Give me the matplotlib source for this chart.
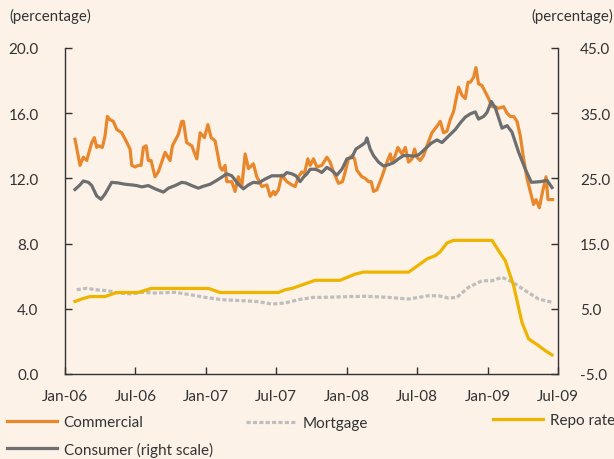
import numpy as np
import matplotlib
matplotlib.use("Agg")
import matplotlib.pyplot as plt
from matplotlib.lines import Line2D

plt.rcParams['font.family'] = ['Lato', 'DejaVu Sans']

# months since Jan-2006, values in percent
comm_m = [0.85, 1.28, 1.56, 1.85, 2.28, 2.50, 2.70, 2.84, 3.18, 3.41, 3.61, 3.84, 4.12, 4.41,
          4.83, 5.20, 5.54, 5.69, 5.97, 6.25, 6.48, 6.68, 6.91, 7.10, 7.33, 7.67, 7.95, 8.53,
          8.95, 9.15, 9.66, 9.95, 10.09, 10.36, 10.80, 11.23, 11.51, 11.88, 12.17, 12.45,
          12.79, 13.21, 13.41, 13.64, 13.78, 14.21, 14.49, 14.77, 15.06, 15.35, 15.63, 16.05,
          16.34, 16.77, 17.20, 17.48, 17.76, 17.90, 18.18, 18.47, 18.90, 19.33, 19.61, 19.89,
          20.18, 20.40, 20.69, 20.89, 21.17, 21.46, 21.88, 22.31, 22.59, 22.87, 23.30, 23.64,
          23.87, 24.15, 24.44, 24.66, 24.87, 25.29, 25.58, 25.86, 26.09, 26.28, 26.57, 27.00,
          27.43, 27.71, 27.85, 28.13, 28.36, 28.70, 28.99, 29.27, 29.56, 29.78, 29.98, 30.26,
          30.55, 30.84, 31.26, 31.69, 31.97, 32.25, 32.54, 32.82, 33.10, 33.53, 33.82, 34.10,
          34.33, 34.53, 34.81, 35.01, 35.23, 35.52, 35.81, 36.09, 36.38, 36.66, 36.94, 37.37,
          37.66, 37.94, 38.22, 38.51, 38.79, 39.07, 39.36, 39.64, 39.92, 40.13, 40.41, 40.69,
          40.98, 41.15, 41.54]
commercial = [14.4, 12.8, 13.3, 13.1, 14.2, 14.5, 13.9, 14.0, 13.9, 14.6, 15.8, 15.6, 15.5, 15.0,
              14.8, 14.3, 13.8, 12.8, 12.7, 12.8, 12.8, 13.9, 14.0, 13.1, 13.1, 12.1, 12.4, 13.6,
              13.1, 14.0, 14.7, 15.5, 15.5, 14.2, 14.0, 13.2, 14.8, 14.5, 15.3, 14.5,
              14.3, 12.7, 12.5, 12.8, 11.8, 11.8, 11.2, 12.1, 11.5, 13.5, 12.6, 12.9,
              12.1, 11.5, 11.6, 10.9, 11.2, 11.0, 11.3, 12.2, 11.8, 11.6, 11.5, 12.1,
              12.4, 12.3, 13.2, 12.8, 13.2, 12.7, 12.8, 13.3, 13.0, 12.4, 11.7, 11.8,
              12.4, 13.2, 13.4, 13.2, 12.5, 12.1, 12.0, 11.8, 11.8, 11.2, 11.3, 12.1,
              13.0, 13.5, 13.0, 13.4, 13.9, 13.5, 13.9, 13.0, 13.2, 13.8, 13.3, 13.1,
              13.4, 14.0, 14.8, 15.2, 15.5, 14.8, 14.9, 15.6, 16.1, 17.6, 17.1, 16.9,
              17.9, 17.9, 18.2, 18.8, 17.8, 17.7, 17.3, 16.9, 16.4, 16.4, 16.3, 16.4,
              16.0, 15.8, 15.8, 15.5, 14.6, 13.2, 12.0, 11.2, 10.4, 10.7, 10.2, 11.2,
              12.1, 10.7, 10.7]

cons_m = [0.85, 1.28, 1.56, 1.99, 2.28, 2.70, 3.07, 3.41, 3.98, 4.54, 5.12, 5.69, 6.11, 6.54,
          7.10, 7.67, 8.38, 8.81, 9.38, 9.95, 10.29, 10.80, 11.36, 11.79, 12.36, 12.93, 13.36,
          13.78, 14.21, 14.77, 15.20, 15.63, 16.05, 16.48, 17.05, 17.62, 18.18, 18.61, 18.90,
          19.33, 19.67, 20.03, 20.32, 20.61, 20.89, 21.31, 21.60, 21.88, 22.31, 22.74, 23.16,
          23.59, 24.02, 24.44, 24.78, 25.29, 25.58, 25.72, 26.00, 26.28, 26.71, 27.14, 27.56,
          27.99, 28.41, 28.84, 29.27, 29.69, 30.12, 30.55, 31.20, 31.69, 32.12, 32.68, 33.25,
          33.67, 34.10, 34.53, 34.95, 35.23, 35.66, 35.95, 36.32, 36.66, 36.94, 37.23, 37.66,
          38.08, 38.65, 39.22, 39.73, 40.49, 41.07, 41.49]
consumer = [23.3, 24.0, 24.6, 24.4, 23.9, 22.3, 21.8, 22.6, 24.4, 24.3, 24.1, 24.0, 23.9, 23.7,
            23.9, 23.4, 22.9, 23.5, 23.9, 24.4, 24.3, 23.9, 23.5, 23.8, 24.1, 24.7, 25.2,
            25.7, 25.4, 24.1, 23.4, 24.0, 24.4, 24.3, 24.9, 25.4, 25.4, 25.4, 25.9,
            25.7, 25.4, 24.5, 25.2, 25.7, 26.4, 26.4, 26.2, 25.9, 26.7, 26.2, 25.5,
            26.4, 28.0, 28.2, 29.5, 30.1, 30.5, 31.2, 29.5, 28.5, 27.5, 26.9, 27.1,
            27.4, 28.0, 28.5, 28.5, 28.4, 28.6, 29.3, 30.4, 30.9, 30.5, 31.5, 32.5,
            33.5, 34.4, 34.9, 35.2, 34.1, 34.5, 35.1, 36.8, 35.8, 34.3, 32.7, 33.1,
            32.1, 29.0, 26.4, 24.4, 24.5, 24.7, 23.6]

mort_m = [1.00, 1.85, 2.84, 3.69, 4.54, 5.69, 6.54, 7.67, 9.38, 10.80, 11.94, 13.36, 15.06,
          16.48, 17.62, 18.76, 19.89, 21.17, 21.88, 23.87, 25.58, 27.56, 29.27, 30.97, 31.82,
          32.68, 33.39, 34.38, 35.52, 36.38, 37.23, 38.08, 39.22, 40.35, 41.49]
mortgage = [5.17, 5.26, 5.15, 5.11, 4.97, 4.91, 5.01, 4.97, 5.01, 4.85, 4.70, 4.56, 4.50,
            4.44, 4.29, 4.36, 4.56, 4.70, 4.70, 4.74, 4.77, 4.70, 4.60, 4.80, 4.80,
            4.66, 4.70, 5.32, 5.72, 5.72, 5.93, 5.66, 5.11, 4.60, 4.40]

repo_m = [0.85, 1.42, 2.13, 3.41, 4.41, 6.25, 7.33, 12.22, 13.21, 18.18, 18.76, 19.33, 20.18,
          21.31, 23.44, 24.72, 25.43, 29.27, 29.98, 30.84, 31.54, 31.97, 32.54, 33.10, 36.38,
          36.94, 37.51, 38.22, 38.93, 39.50, 40.35, 40.92, 41.49]
repo = [4.45, 4.6, 4.75, 4.75, 5.0, 5.0, 5.25, 5.25, 5.0, 5.0, 5.17, 5.25, 5.46,
        5.75, 5.75, 6.13, 6.25, 6.25, 6.61, 7.06, 7.26, 7.5, 8.04, 8.2, 8.2,
        7.56, 6.95, 5.42, 3.17, 2.15, 1.74, 1.43, 1.17]

tick_pos = [0, 6, 12, 18, 24, 30, 36, 42]
tick_labels = ['Jan-06', 'Jul-06', 'Jan-07', 'Jul-07', 'Jan-08', 'Jul-08', 'Jan-09', 'Jul-09']

bg = '#FCF2E8'
c_comm = '#E8872B'
c_cons = '#6D6E70'
c_mort = '#BEBEBE'
c_repo = '#EDB400'
axc = '#333333'

fig = plt.figure(figsize=(6.14, 4.6), dpi=100, facecolor=bg)
ax = fig.add_axes([65/614, 85/460, 493/614, 326/460])
ax.set_facecolor(bg)
ax2 = ax.twinx()
ax2.patch.set_visible(False)

lw = 2.3
ax.plot(mort_m, mortgage, color=c_mort, lw=lw, dashes=(1.3, 0.7), zorder=2)
ax.plot(repo_m, repo, color=c_repo, lw=lw, zorder=3, solid_joinstyle='round')
ax.plot(comm_m, commercial, color=c_comm, lw=lw, zorder=3, solid_joinstyle='round')
ax2.plot(cons_m, consumer, color=c_cons, lw=lw, zorder=4, solid_joinstyle='round')

ax.set_xlim(0, 42)
ax.set_ylim(0, 20)
ax2.set_ylim(-5, 45)
ax.set_yticks(np.arange(0, 21, 4))
ax2.set_yticks(np.arange(-5, 46, 10))
ax.set_yticklabels([f'{v:.1f}' for v in np.arange(0, 21, 4)])
ax2.set_yticklabels([f'{v:.1f}' for v in np.arange(-5, 46, 10)])
ax.set_xticks(tick_pos)
ax.set_xticklabels(tick_labels)

for a in (ax, ax2):
    a.spines['top'].set_visible(False)
    for s in a.spines.values():
        s.set_color(axc)
        s.set_linewidth(1.0)
ax.spines['right'].set_visible(False)
ax2.spines['left'].set_visible(False)
ax2.spines['bottom'].set_visible(False)

ax.tick_params(axis='y', direction='in', length=5, width=1, colors=axc, labelsize=11, pad=19)
ax.tick_params(axis='x', direction='in', length=5, width=1, colors=axc, labelsize=11, pad=11)
ax2.tick_params(axis='y', direction='in', length=5, width=1, colors=axc, labelsize=11, pad=16)

fig.text(9/614, 1 - 16/460, '(percentage)', fontsize=10.8, color=axc, ha='left', va='center')
fig.text(613/614, 1 - 16/460, '(percentage)', fontsize=10.8, color=axc, ha='right', va='center')

entries = [
    ('Commercial', dict(color=c_comm, lw=lw), 7, 423),
    ('Mortgage', dict(color=c_mort, lw=lw, dashes=(1.3, 0.7)), 246, 424),
    ('Repo rate', dict(color=c_repo, lw=lw), 493, 421),
    ('Consumer (right scale)', dict(color=c_cons, lw=lw), 7, 450),
]
for label, style, x0, y0 in entries:
    h = Line2D([], [], **style)
    fig.legend([h], [label], loc='center left', bbox_to_anchor=(x0/614, 1 - y0/460),
               frameon=False, borderpad=0, borderaxespad=0, handlelength=3.3,
               handletextpad=0.4, fontsize=11, labelcolor=axc)

fig.savefig('out.png', dpi=100, facecolor=bg)
